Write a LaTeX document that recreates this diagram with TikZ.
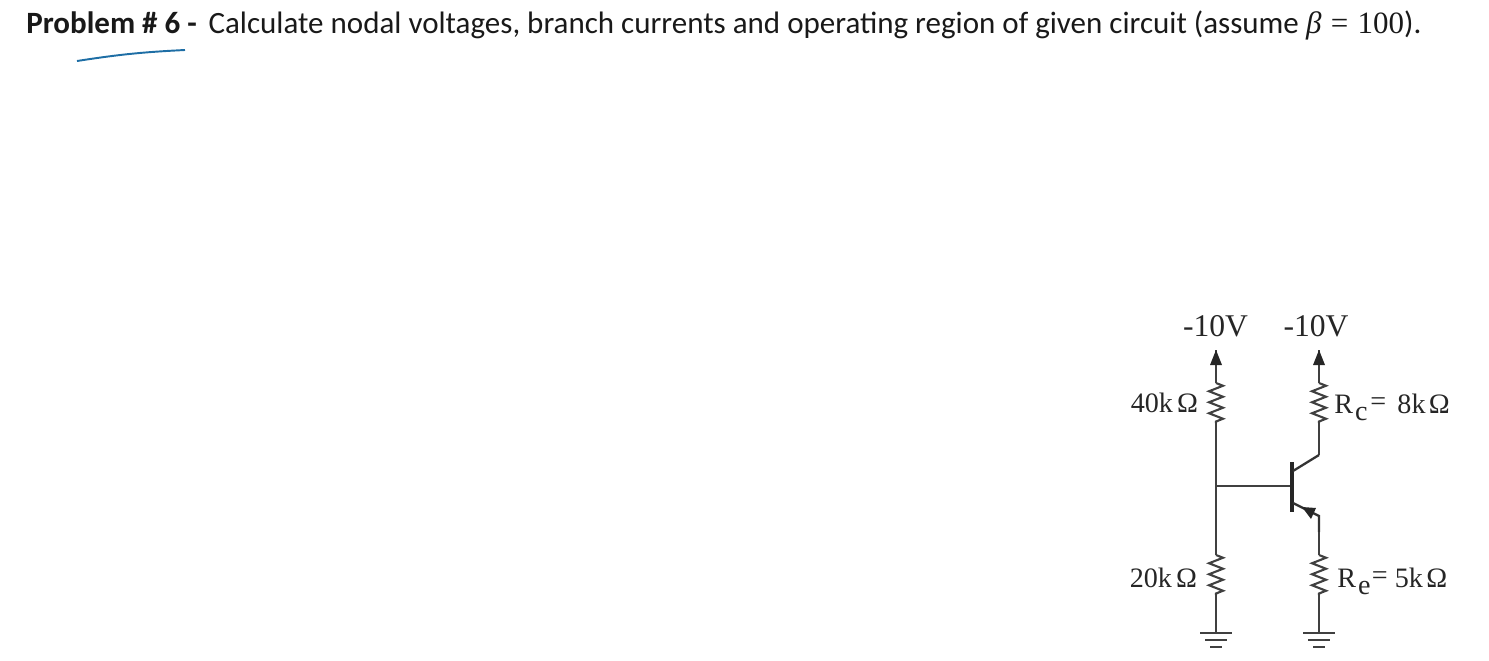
\documentclass[tikz,border=0pt]{standalone}
\usepackage{amsmath,amssymb}
\usepackage{fontspec}
\setmainfont{Carlito}
\newfontfamily\figfont{Liberation Serif}
\usetikzlibrary{positioning,calc,arrows.meta,decorations.pathmorphing}

\tikzset{
  wire/.style={line width=0.85pt, draw=black!75},
  thickwire/.style={line width=1.3pt, draw=black!80},
  res/.style={line width=1.2pt, draw=black!75, decorate, decoration={zigzag, segment length=11*0.02cm, amplitude=7*0.02cm}},
  figlabel/.style={inner sep=0pt, font=\figfont\fontsize{18}{20}\selectfont, text=black!85},
  vallabel/.style={inner sep=0pt, font=\figfont\fontsize{16}{20}\selectfont, text=black!85},
  gndbar/.style={line width=1.5pt, draw=black!75},
}
\newcommand{\lowsub}[1]{\raisebox{-4pt}{#1}}
\newcommand{\higheq}{\raisebox{1.5pt}{=}}

\begin{document}
\begin{tikzpicture}[x=0.02cm, y=-0.02cm]
\useasboundingbox (0,0) rectangle (1489,660);
\node[anchor=base west, inner sep=0pt, font=\fontsize{17.65}{20}\selectfont, text=black!90] (title) at (26,33)
  {\textbf{Problem \# 6 -}\hspace{0.15em} Calculate nodal voltages, branch currents and operating region of given circuit (assume {\figfont\itshape β}\hspace{0.3em}{\figfont =\hspace{0.3em}100}).};
\coordinate (ul1) at (77,61);
\coordinate (ul2) at (185,50);
\draw[draw={rgb,255:red,30;green,110;blue,165}, line width=1.1pt] (ul1) to[bend left=3] (ul2);

% supply ends
\coordinate (v1) at (1216,350);
\coordinate (v2) at (1319,350);
\node[figlabel] (vl1) at (1215.5,326) {-10V};
\node[figlabel] (vl2) at (1316,326) {-10V};

% left divider
\coordinate (r1t) at (1216,383);
\coordinate (r1b) at (1216,423);
\coordinate (bn) at (1216,486);
\coordinate (r2t) at (1216,555);
\coordinate (r2b) at (1216,595);
\coordinate (g1) at (1216,633);

% right branch
\coordinate (r3t) at (1319,383);
\coordinate (r3b) at (1319,423);
\coordinate (c1) at (1319,455);
\coordinate (c2) at (1293,471);
\coordinate (e2) at (1293,503);
\coordinate (e1) at (1319,516);
\coordinate (e0) at (1319,532);
\coordinate (r4t) at (1319,555);
\coordinate (r4b) at (1319,595);
\coordinate (g2) at (1319,633);

\coordinate (bart) at (1292,462);
\coordinate (barb) at (1292,512);
\coordinate (bs) at (1292,486);

\draw[wire] (r1t) -- (v1);
\draw[wire] (r3t) -- (v2);
\fill[black!85] (v1) -- ++(-6,15) -- ++(12,0) -- cycle;
\fill[black!85] (v2) -- ++(-6,15) -- ++(12,0) -- cycle;
\draw[res] (r1t) -- (r1b);
\draw[res] (r3t) -- (r3b);
\draw[res] (r2t) -- (r2b);
\draw[res] (r4t) -- (r4b);
\draw[wire] (r1b) -- (bn) -- (r2t);
\draw[wire] (r2b) -- (g1);
\draw[wire] (r4b) -- (g2);
\draw[wire] (bn) -- (bs);
\draw[line width=2.8pt, draw=black!85] (bart) -- (barb);
\draw[wire] (r3b) -- (c1);
\draw[thickwire] (c1) -- (c2);
\draw[thickwire] (e2) -- (e1) -- (e0);
\draw[wire] (e0) -- (r4t);
\fill[black!85] (1302,507) -- (1316,508) -- (1311,519) -- cycle;

% grounds
\foreach \g in {g1,g2} {
  \draw[gndbar] ($(\g)+(-16,0)$) -- ($(\g)+(16,0)$);
  \draw[gndbar] ($(\g)+(-11,7)$) -- ($(\g)+(11,7)$);
  \draw[gndbar] ($(\g)+(-6,14)$) -- ($(\g)+(6,14)$);
}

\node[vallabel, anchor=base east] (r1l) at (1198.5,412) {40k\hspace{0.15em}Ω};
\node[vallabel, anchor=base east] (r2l) at (1197.5,587) {20k\hspace{0.15em}Ω};
\node[vallabel, anchor=base west] (r3l) at (1334,413) {R\hspace{0.07em}\lowsub{c}\hspace{0.1em}\higheq\hspace{0.4em}8k\hspace{0.12em}Ω};
\node[vallabel, anchor=base west] (r4l) at (1337,587) {R\hspace{0.07em}\lowsub{e}\hspace{0.05em}\higheq\hspace{0.25em}5k\hspace{0.12em}Ω};
\end{tikzpicture}
\end{document}
